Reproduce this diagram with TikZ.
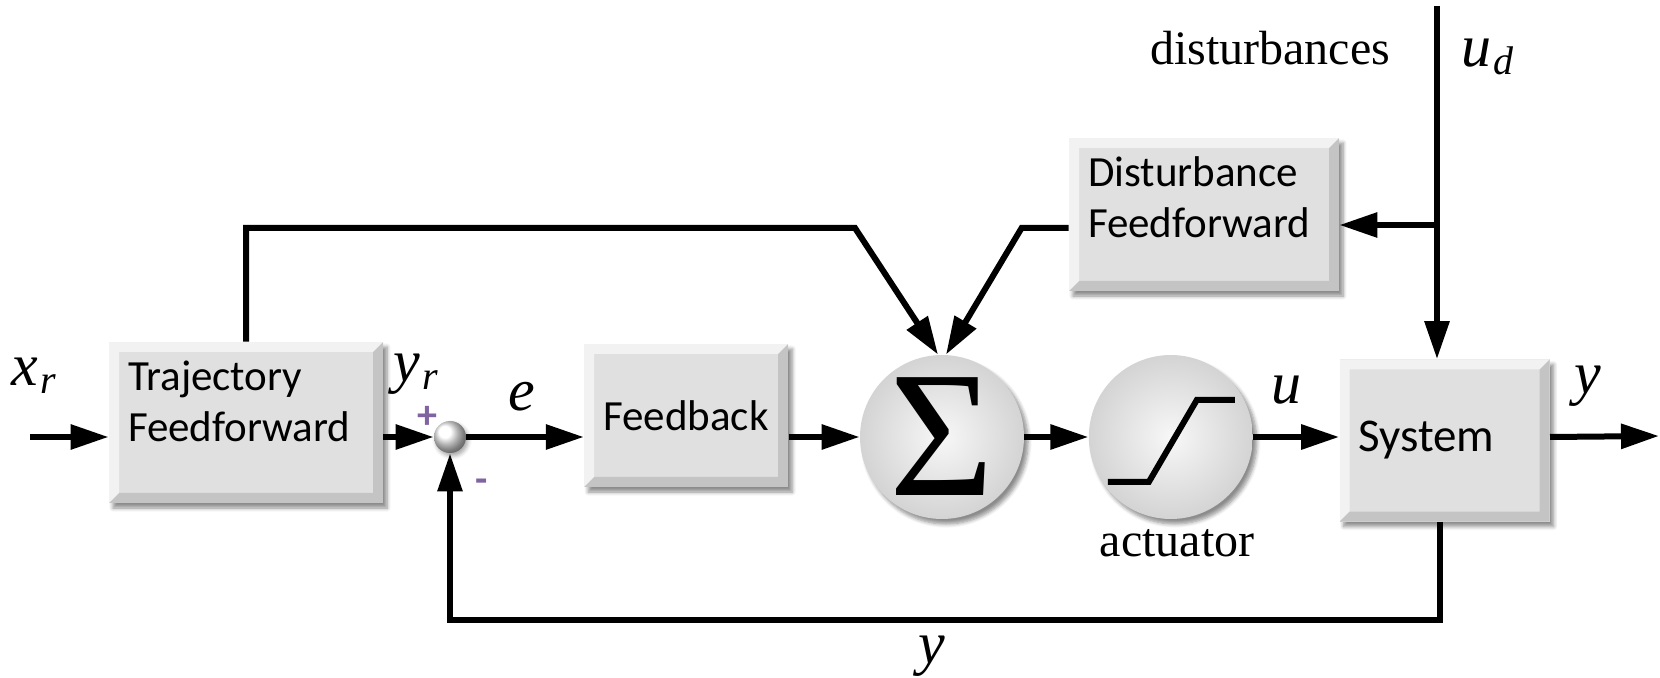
\documentclass[tikz,border=0pt]{standalone}
\usepackage{fontspec}
\setmainfont{Carlito}
\newfontfamily\tnr{Liberation Serif}
\usetikzlibrary{positioning, arrows.meta, shadows, shadows.blur}

\definecolor{boxface}{RGB}{224,224,224}
\definecolor{signcol}{RGB}{128,100,162}

% italic signal name with a lowered index
\newcommand{\sgn}[2]{{\tnr\itshape\fontsize{30}{30}\selectfont #1\kern1pt\raisebox{-4pt}{\fontsize{20}{20}\selectfont #2}}}

\tikzset{>={Triangle[length=19pt,width=12pt]}, % large solid heads
flow/.style={->, line width=3pt}, % every signal line
bevel/.style={path picture={
 \coordinate (bnw) at (path picture bounding box.north west);
 \coordinate (bne) at (path picture bounding box.north east);
 \coordinate (bsw) at (path picture bounding box.south west);
 \coordinate (bse) at (path picture bounding box.south east);
 \fill[white, opacity=.6] (bnw) -- (bne) -- ([shift={(-5pt,-5pt)}]bne) -- ([shift={(5pt,-5pt)}]bnw) -- ([shift={(5pt,5pt)}]bsw) -- (bsw) -- cycle;
 \fill[black, opacity=.12] (bse) -- (bsw) -- ([shift={(5pt,5pt)}]bsw) -- ([shift={(-5pt,5pt)}]bse) -- ([shift={(-5pt,-5pt)}]bne) -- (bne) -- cycle;
}},
box/.style={rectangle, fill=boxface, inner sep=9.5pt, font=\fontsize{21.5}{25.5}\selectfont, bevel, blur shadow={shadow blur steps=6, shadow xshift=2pt, shadow yshift=-2.5pt, shadow opacity=45}},
disc/.style={circle, minimum size=82pt, inner sep=0pt, inner color=black!3, outer color=black!17, blur shadow={shadow blur steps=6, shadow xshift=2pt, shadow yshift=-2.5pt, shadow opacity=45}},
sumpt/.style={circle, minimum size=16pt, inner sep=0pt, ball color=white, blur shadow={shadow blur steps=4, shadow xshift=1pt, shadow yshift=-1.5pt, shadow opacity=35}},
lbl/.style={font=\tnr\fontsize{24}{24}\selectfont},
var/.style={font=\tnr\itshape\fontsize{30}{30}\selectfont},
sign/.style={text=signcol, font=\bfseries\fontsize{20}{20}\selectfont},
}

\begin{document}
\begin{tikzpicture}[x=0.5pt, y=-0.5pt]
\useasboundingbox (0,0) rectangle (1660,678);

% blocks
\node[disc] (sig) at (942,437) {\tnr\fontsize{90}{90}\selectfont Σ};
\node[disc, right=32pt of sig] (act) {};
\node[box, minimum width=105pt, minimum height=81pt, right=43pt of act, yshift=-1.75pt, font=\fontsize{23.5}{26}\selectfont] (sys) {\parbox{86pt}{System}};
\node[box, minimum width=102pt, minimum height=71.5pt, left=35.5pt of sig, yshift=10.75pt] (fb) {\parbox{83pt}{Feedback}};
\node[sumpt] (sj) at (450,437) {};
\node[box] (traj) at (246,422.5) {\parbox[c][61.5pt][t]{118pt}{Trajectory\\Feedforward}};
\node[box] (dff) at (1204,214.5) {\parbox[c][57.5pt][t]{116pt}{Disturbance\\Feedforward}};

% saturation
\draw[line width=3pt] ([shift={(-63,45)}]act.center) -- ([shift={(-22,45)}]act.center) -- ([shift={(26,-37)}]act.center) -- ([shift={(64,-37)}]act.center);

% signals
\coordinate (xin) at (30,437);
\coordinate (yout) at (1659,436);
\coordinate (udtop) at (1437,6);
\coordinate (udtap) at (1437,225);
\draw[flow] (xin) -- (xin -| traj.west);
\draw[flow] (traj.east |- sj) -- (sj);
\draw[flow] (sj) -- (sj -| fb.west);
\draw[flow] (fb.east |- sig) -- (sig);
\draw[flow] (sig) -- (act);
\draw[flow] (act) -- (act -| sys.west);
\draw[flow] (sys.east |- act) -- (yout);
\draw[flow] ([xshift=-2.5pt]sys.south) -- ++(0,98) -| (sj);
\draw[flow] (udtop) -- (udtop |- sys.north);
\draw[flow] (udtap) -- (udtap -| dff.east);
\draw[flow] (traj.north) |- (855,228) -- ([xshift=-2pt]sig.north);
\draw[flow] ([yshift=-6.75pt]dff.west) -- ++(-47,0) -- ([xshift=2pt]sig.north);

% labels
\node (xr) at (34,376) {\sgn{x}{r}};
\node (yr) at (416,374) {\sgn{y}{r}};
\node[sign] (plus) at (427,417) {+};
\node[sign] (minus) at (482,486) {-};
\node[var] (elbl) at (522,397) {e};
\node[var] (ulbl) at (1286,390) {u};
\node[var] (ylbl) at (1588,386) {y};
\node[var] (yback) at (932,656) {y};
\node (ud) at (1487,57) {\sgn{u}{d}};
\node[lbl] (dist) at (1270,48) {disturbances};
\node[lbl] (actlbl) at (1177,543) {actuator};
\end{tikzpicture}
\end{document}
